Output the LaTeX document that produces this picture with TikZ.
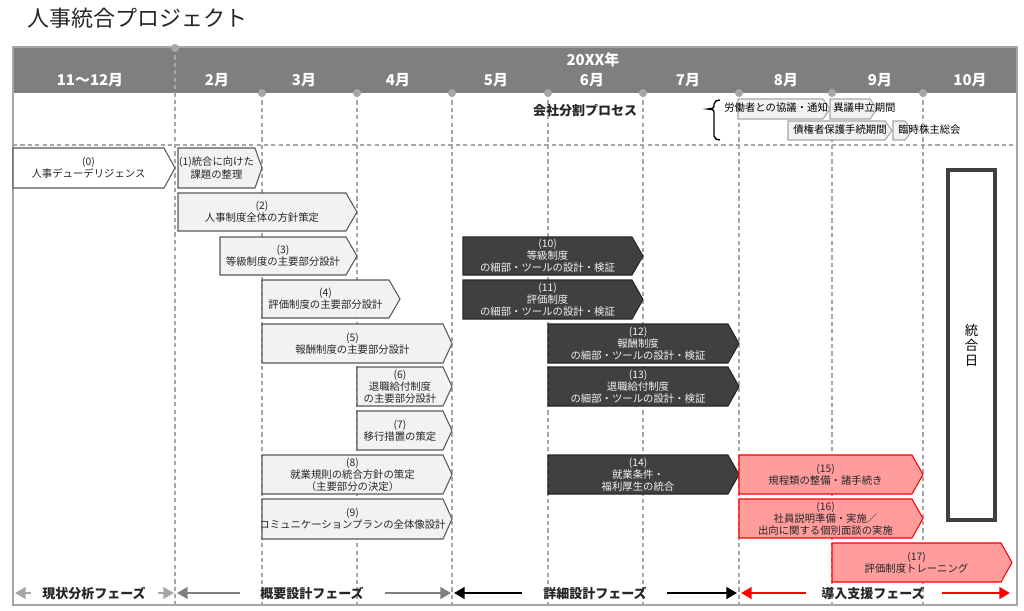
\documentclass[tikz,border=0pt]{standalone}
\usepackage{fontspec}
\setmainfont{Noto Sans CJK JP}
\usetikzlibrary{arrows.meta}

\definecolor{kopf}{HTML}{7F7F7F}
\definecolor{rahmen}{HTML}{A6A6A6}
\definecolor{hellgrau}{HTML}{F2F2F2}
\definecolor{dunkelgrau}{HTML}{404040}
\definecolor{rosa}{HTML}{FF9D9D}

\tikzset{
  klein/.style={font=\fontsize{5.9}{6.9}\selectfont, align=center, inner sep=0pt},
  weiss/.style={fill=white, draw=black!65, line width=0.6pt},
  weiss text/.style={klein, text=black!85},
  hell/.style={fill=hellgrau, draw=black!65, line width=0.6pt},
  hell text/.style={klein, text=black!85},
  dunkel/.style={fill=dunkelgrau, draw=black!85, line width=0.6pt},
  dunkel text/.style={klein, text=hellgrau},
  rot/.style={fill=rosa, draw=red, line width=0.6pt},
  rot text/.style={klein, text=black!85},
  mini/.style={fill=hellgrau, draw=rahmen, line width=0.6pt},
  raster/.style={rahmen, line width=0.6pt, dash pattern=on 2.4pt off 1.8pt},
  monat/.style={font=\fontsize{8.5}{10}\selectfont\bfseries, text=white, inner sep=0pt},
  phase/.style={font=\fontsize{7.4}{9}\selectfont\bfseries, text=black!85, inner sep=0pt},
  pfeil/.style={line width=1.6pt, -{Triangle[length=6pt,width=6.5pt]}}
}

% Pfeilkasten: [Spitze]{Stil}{Name}{x links}{x Spitze}{y oben}{y unten}{Text}
\newcommand{\chevbox}[8][11]{%
  \draw[#2] (#4,#6) -- ({#5-#1},#6) -- (#5,{(#6+#7)/2}) -- ({#5-#1},#7) -- (#4,#7) -- cycle;
  \node[#2 text] (#3) at ({(#4+#5-#1)/2},{(#6+#7)/2}) {#8};}

\begin{document}
\begin{tikzpicture}[x=0.02cm, y=-0.02cm]
  \useasboundingbox (0,0) rectangle (1024,610);

  % Titel
  \node[anchor=west, font=\fontsize{12.5}{14}\selectfont, text=black!85, inner sep=0pt] (titel) at (27,18) {人事統合プロジェクト};

  % Kopfzeile
  \fill[kopf] (13,48) rectangle (1017,93);

  % Raster zeichnen
  \draw[raster] (175,48) -- (175,605);
  \draw[raster] (262,93) -- (262,605);
  \draw[raster] (357,93) -- (357,605);
  \draw[raster] (452,93) -- (452,605);
  \draw[raster] (548,93) -- (548,605);
  \draw[raster] (643,93) -- (643,605);
  \draw[raster] (739,93) -- (739,605);
  \draw[raster] (832,93) -- (832,605);
  \draw[raster] (923,93) -- (923,605);
  \draw[raster] (13,145) -- (1017,145);

  % Rahmen
  \draw[rahmen, line width=1.2pt] (13,47) rectangle (1017,605);

  % Punkte auf den Linien
  \fill[rahmen] (175,48) circle[radius=2.3pt];
  \fill[rahmen] (262,93) circle[radius=2.3pt];
  \fill[rahmen] (357,93) circle[radius=2.3pt];
  \fill[rahmen] (452,93) circle[radius=2.3pt];
  \fill[rahmen] (548,93) circle[radius=2.3pt];
  \fill[rahmen] (643,93) circle[radius=2.3pt];
  \fill[rahmen] (739,93) circle[radius=2.3pt];
  \fill[rahmen] (832,93) circle[radius=2.3pt];
  \fill[rahmen] (923,93) circle[radius=2.3pt];

  % Monate
  \node[monat] (jahr) at (593,60) {20XX年};
  \node[monat] (m1112) at (90,80) {11～12月};
  \node[monat] (m2) at (217,80) {2月};
  \node[monat] (m3) at (304,80) {3月};
  \node[monat] (m4) at (398,80) {4月};
  \node[monat] (m5) at (496,80) {5月};
  \node[monat] (m6) at (592,80) {6月};
  \node[monat] (m7) at (688,80) {7月};
  \node[monat] (m8) at (786,80) {8月};
  \node[monat] (m9) at (880,80) {9月};
  \node[monat] (m10) at (970,80) {10月};

  % Gesellschaftsteilung
  \node[phase] (prozess) at (585,111) {会社分割プロセス};
  \draw[line width=0.8pt] (720,100) to[out=180,in=90] (714,104) -- (714,106)
    to[out=-90,in=0] (708,109) to[out=0,in=90] (714,112) -- (714,136)
    to[out=-90,in=180] (720,140);
  \draw[mini] (738,99) -- (823,99) -- (830,109) -- (823,119) -- (738,119) -- cycle;
  \draw[mini] (830,99) -- (870,99) -- (877,109) -- (870,119) -- (830,119) -- cycle;
  \draw[mini] (788,121) -- (885,121) -- (892,130.5) -- (885,140) -- (788,140) -- cycle;
  \draw[mini] (893,121) -- (905,121) -- (912,130.5) -- (905,140) -- (893,140) -- cycle;
  \node[klein, anchor=west] (kyogi) at (724,108) {労働者との協議・通知};
  \node[klein, anchor=west] (igi) at (833,108) {異議申立期間};
  \node[klein] (saiken) at (840,130) {債権者保護手続期間};
  \node[klein, anchor=west] (soukai) at (898,130) {臨時株主総会};

  % Arbeitspakete
  \chevbox{weiss}{c0}{13}{175}{148}{188}{(0)\\人事デューデリジェンス}
  \chevbox[7]{hell}{c1}{178}{262}{148}{188}{(1)統合に向けた\\課題の整理}
  \chevbox{hell}{c2}{178}{357}{193}{231}{(2)\\人事制度全体の方針策定}
  \chevbox{hell}{c3}{220}{357}{237}{275}{(3)\\等級制度の主要部分設計}
  \chevbox{hell}{c4}{262}{400}{280}{318}{(4)\\評価制度の主要部分設計}
  \chevbox[9]{hell}{c5}{262}{452}{324}{363}{(5)\\報酬制度の主要部分設計}
  \chevbox[9]{hell}{c6}{357}{452}{367}{406}{(6)\\退職給付制度\\の主要部分設計}
  \chevbox[9]{hell}{c7}{357}{452}{411}{450}{(7)\\移行措置の策定}
  \chevbox[9]{hell}{c8}{262}{452}{455}{494}{(8)\\就業規則の統合方針の策定\\（主要部分の決定）}
  \chevbox[9]{hell}{c9}{262}{452}{499}{539}{(9)\\コミュニケーションプランの全体像設計}
  \chevbox{dunkel}{c10}{463}{643}{237}{275}{(10)\\等級制度\\の細部・ツールの設計・検証}
  \chevbox{dunkel}{c11}{463}{643}{280}{319}{(11)\\評価制度\\の細部・ツールの設計・検証}
  \chevbox{dunkel}{c12}{548}{739}{324}{363}{(12)\\報酬制度\\の細部・ツールの設計・検証}
  \chevbox{dunkel}{c13}{548}{739}{367}{406}{(13)\\退職給付制度\\の細部・ツールの設計・検証}
  \chevbox{dunkel}{c14}{548}{739}{455}{494}{(14)\\就業条件・\\福利厚生の統合}
  \chevbox{rot}{c15}{739}{923}{455}{494}{(15)\\規程類の整備・諸手続き}
  \chevbox{rot}{c16}{739}{923}{499}{538}{(16)\\社員説明準備・実施／\\出向に関する個別面談の実施}
  \chevbox{rot}{c17}{832}{1012}{543}{582}{(17)\\評価制度トレーニング}

  % Stichtag
  \draw[dunkelgrau, line width=1.8pt] (948,170) rectangle (995,520);
  \node[font=\fontsize{7.6}{8.6}\selectfont, align=center, inner sep=0pt] (stichtag) at (971.5,345) {統\\合\\日};

  % Phasen
  \node[phase] (ist) at (94,593) {現状分析フェーズ};
  \node[phase] (grob) at (312,593) {概要設計フェーズ};
  \node[phase] (fein) at (595,593) {詳細設計フェーズ};
  \node[phase] (einf) at (873,593) {導入支援フェーズ};
  \coordinate (ist-l) at (31,593);   \coordinate (ist-l0) at (15,593);
  \coordinate (ist-r) at (158,593);  \coordinate (ist-r0) at (174,593);
  \coordinate (grob-l) at (240,593); \coordinate (grob-l0) at (177,593);
  \coordinate (grob-r) at (385,593); \coordinate (grob-r0) at (451,593);
  \coordinate (fein-l) at (522,593); \coordinate (fein-l0) at (454,593);
  \coordinate (fein-r) at (667,593); \coordinate (fein-r0) at (737,593);
  \coordinate (einf-l) at (806,593); \coordinate (einf-l0) at (741,593);
  \coordinate (einf-r) at (942,593); \coordinate (einf-r0) at (1010,593);
  \draw[pfeil, rahmen] (ist-l) -- (ist-l0);
  \draw[pfeil, rahmen] (ist-r) -- (ist-r0);
  \draw[pfeil, kopf] (grob-l) -- (grob-l0);
  \draw[pfeil, kopf] (grob-r) -- (grob-r0);
  \draw[pfeil, black] (fein-l) -- (fein-l0);
  \draw[pfeil, black] (fein-r) -- (fein-r0);
  \draw[pfeil, red] (einf-l) -- (einf-l0);
  \draw[pfeil, red] (einf-r) -- (einf-r0);
\end{tikzpicture}
\end{document}
